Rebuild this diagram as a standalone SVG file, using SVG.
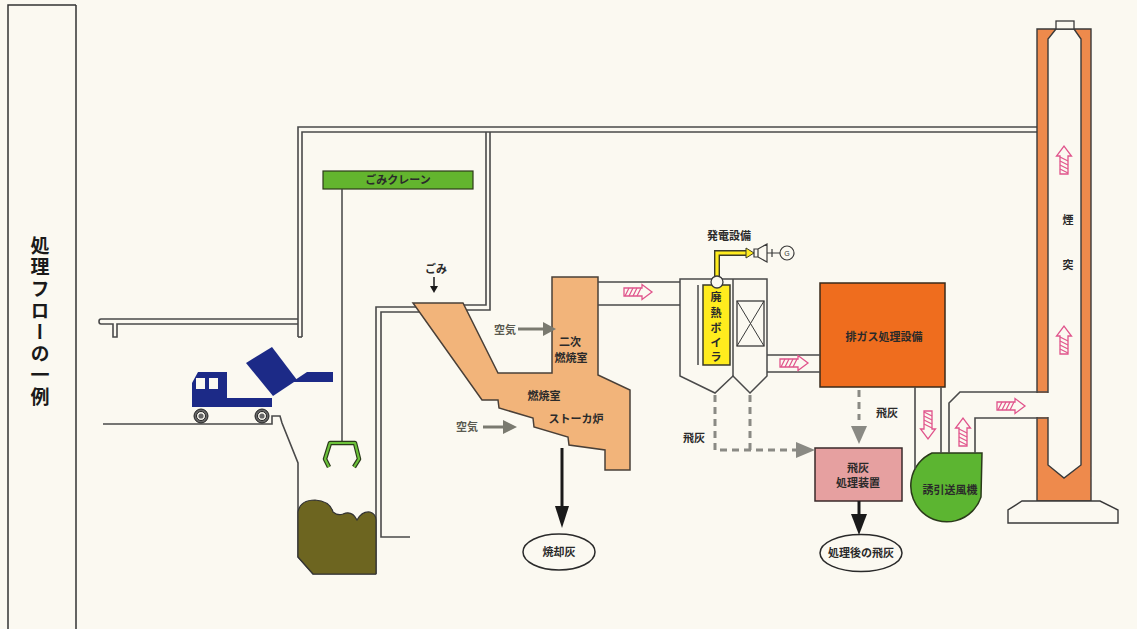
<svg xmlns="http://www.w3.org/2000/svg" xmlns:xlink="http://www.w3.org/1999/xlink" width="1137" height="629" viewBox="0 0 1137 629">
  <style>
    .wall { fill: none; stroke: #4a4a4a; stroke-width: 1.6; }
    .lbl { font-family: "Noto Sans CJK JP", "Noto Sans", sans-serif; font-weight: bold; font-size: 11px; fill: #2a2a2a; text-anchor: middle; }
    .air { font-family: "Noto Sans CJK JP", "Noto Sans", sans-serif; font-weight: bold; font-size: 11px; fill: #5a5a50; text-anchor: middle; }
    .ash { fill: none; stroke: #8a8a84; stroke-width: 3; stroke-dasharray: 7 5; }
    .flow { fill: #fbf9f1; stroke: #e0548c; stroke-width: 1.3; }
  </style>
  <defs>
    <!-- hatched gas-flow arrow, pointing right, origin at tail centre -->
    <g id="flowArrow">
      <path class="flow" d="M 0 -4 H 18 V -7.5 L 28 0 L 18 7.5 V 4 H 0 Z"/>
      <path d="M 1 4 L 5 -4 M 5 4 L 9 -4 M 9 4 L 13 -4 M 13 4 L 17 -4" stroke="#e0548c" stroke-width="1.2" fill="none"/>
    </g>
  </defs>

  <!-- paper -->
  <rect x="0" y="0" width="1137" height="629" fill="#fbf9f1"/>

  <!-- title panel -->
  <g id="title">
    <path d="M 8 629 V 5 H 76 M 76 5 V 629" fill="none" stroke="#333" stroke-width="1.5"/>
    <text x="40" y="236" writing-mode="tb" font-family="Noto Sans CJK JP, sans-serif" font-weight="bold" font-size="19" letter-spacing="2.6" fill="#1a1a1a">処理フローの一例</text>
  </g>

  <!-- building -->
  <g id="building">
    <path class="wall" d="M 298 337 V 127 H 1037"/>
    <path class="wall" d="M 302 337 V 132 H 1037"/>
    <path class="wall" d="M 298 337 H 302"/>
    <path class="wall" d="M 298 319 H 101 Q 99 319 99 321.5 Q 99 324 101 324 H 113 V 337 H 117 V 324 H 298"/>
    <path class="wall" d="M 486 132 V 305 H 463"/>
    <path class="wall" d="M 490 132 V 310 H 466"/>
    <path class="wall" d="M 416 307 H 376 V 574"/>
    <path class="wall" d="M 420 312 H 381 V 537 H 410"/>
    <path class="wall" d="M 103 424 H 272 V 416 H 280 L 282 423 L 298 463 V 557 L 313 574 H 376"/>
  </g>

  <!-- refuse pit contents -->
  <g id="pit">
    <path d="M 298 512 Q 300 500 315 500 Q 330 501 333 512 Q 338 516 343 514 Q 352 510 357 520 Q 362 511 370 512 Q 376 514 376 520 V 574 H 313 L 298 557 Z" fill="#6d6520" stroke="#333" stroke-width="1.2"/>
  </g>

  <!-- collection truck -->
  <g id="truck">
    <path d="M 246 363 L 272 347 L 297 380 L 273 396 Z" fill="#1c2a87"/>
    <path d="M 292 382 L 307 372 H 333 V 382 Z" fill="#1c2a87"/>
    <path d="M 192 407 V 383 L 198 372 H 227 V 398 H 272 V 407 Z" fill="#1c2a87"/>
    <rect x="196" y="378" width="9" height="11" fill="#fbf9f1"/>
    <rect x="209" y="378" width="9" height="11" fill="#fbf9f1"/>
    <circle cx="201" cy="416" r="7" fill="#666" stroke="#222" stroke-width="1"/>
    <circle cx="201" cy="416" r="4.5" fill="#fbf9f1" stroke="#222" stroke-width="1"/>
    <circle cx="201" cy="416" r="2.6" fill="#666"/>
    <circle cx="262" cy="416" r="7" fill="#666" stroke="#222" stroke-width="1"/>
    <circle cx="262" cy="416" r="4.5" fill="#fbf9f1" stroke="#222" stroke-width="1"/>
    <circle cx="262" cy="416" r="2.6" fill="#666"/>
  </g>

  <!-- refuse crane -->
  <g id="crane">
    <rect x="323" y="171" width="150" height="18" fill="#63b52e" stroke="#2d3a1a" stroke-width="1.2"/>
    <text class="lbl" x="398" y="184" fill="#1f3010">ごみクレーン</text>
    <path d="M 342 189 V 443" stroke="#444" stroke-width="1.5"/>
    <path d="M 329 467 L 325 459 L 330 443 H 355 L 359 459 L 354 467" fill="none" stroke="#2a3a1a" stroke-width="4.5" stroke-linejoin="round"/>
    <path d="M 329 467 L 325 459 L 330 443 H 355 L 359 459 L 354 467" fill="none" stroke="#6cc23a" stroke-width="2.2" stroke-linejoin="round"/>
  </g>

  <!-- furnace -->
  <g id="furnace">
    <path d="M 413 303 L 463 303 L 498 373 L 552 373 L 552 277 L 598 277 L 598 375 L 630 390 L 630 470 L 605 470 L 605 450 L 569 445 L 568 437 L 534 427 L 533 418 L 499 408 L 498 400 L 482 400 Z" fill="#f2b47a" stroke="#4a4038" stroke-width="1.5"/>
    <text class="lbl" x="570" y="346" fill="#3a2a1a">二次</text>
    <text class="lbl" x="571" y="362" fill="#3a2a1a">燃焼室</text>
    <text class="lbl" x="544" y="400" fill="#3a2a1a">燃焼室</text>
    <text class="lbl" x="576" y="423" fill="#3a2a1a">ストーカ炉</text>
  </g>

  <!-- waste boiler and power generation -->
  <g id="boiler">
    <path d="M 680 279 H 767 V 376 L 750 393 L 733 376 L 715 393 L 680 376 Z" fill="#fbf9f1" stroke="#4a4a4a" stroke-width="1.5"/>
    <path d="M 733 279 V 376 M 698 285 V 365" stroke="#4a4a4a" stroke-width="1.5"/>
    <rect x="703" y="285" width="27" height="80" fill="#ffec1e" stroke="#3a3a2a" stroke-width="1.5"/>
    <text class="lbl" x="716" y="301">廃</text>
    <text class="lbl" x="716" y="317">熱</text>
    <text class="lbl" x="716" y="332">ボ</text>
    <text class="lbl" x="716" y="347">イ</text>
    <text class="lbl" x="716" y="361">ラ</text>
    <rect x="737" y="301" width="27" height="45" fill="none" stroke="#3a3a3a" stroke-width="1.3"/>
    <path d="M 737 301 L 764 346 M 764 301 L 737 346" stroke="#3a3a3a" stroke-width="1"/>
    <path d="M 717 277 V 253 H 748" fill="none" stroke="#3a3a2a" stroke-width="6"/>
    <path d="M 717 277 V 253 H 748" fill="none" stroke="#ffec1e" stroke-width="3.2"/>
    <path d="M 746 248 L 754 253 L 746 258 Z" fill="#ffec1e" stroke="#3a3a2a" stroke-width="1"/>
    <circle cx="717" cy="282" r="6" fill="#fbf9f1" stroke="#3a3a3a" stroke-width="1.3"/>
    <path d="M 754 249 H 758 V 257 H 754 Z M 758 249 L 767 244 V 262 L 758 257 Z" fill="#fbf9f1" stroke="#3a3a3a" stroke-width="1.2"/>
    <path d="M 767 253 H 780 M 772 249 V 257" stroke="#3a3a3a" stroke-width="1.2"/>
    <circle cx="787" cy="253" r="7" fill="#fbf9f1" stroke="#3a3a3a" stroke-width="1.2"/>
    <text x="787" y="256" font-family="Liberation Sans, sans-serif" font-size="7" text-anchor="middle" fill="#333">G</text>
    <text class="lbl" x="729" y="240">発電設備</text>
  </g>

  <!-- flue gas treatment -->
  <g id="gas-treatment">
    <rect x="820" y="283" width="125" height="104" fill="#ef6d1e" stroke="#3a2a1a" stroke-width="1.5"/>
    <text class="lbl" x="884" y="341" fill="#3a1a0a">排ガス処理設備</text>
  </g>

  <!-- fly ash treatment -->
  <g id="flyash-unit">
    <rect x="815" y="448" width="87" height="53" fill="#e6a0a0" stroke="#3a2a2a" stroke-width="1.5"/>
    <text class="lbl" x="858" y="472" fill="#5a2020">飛灰</text>
    <text class="lbl" x="858" y="487" fill="#5a2020">処理装置</text>
  </g>

  <!-- induced draft fan -->
  <g id="fan">
    <path d="M 982 453 H 932 A 36 36 0 1 0 981 497 Z" fill="#5cb531" stroke="#2a3a1a" stroke-width="1.5"/>
    <text class="lbl" x="950" y="494" font-size="10" fill="#1a2a10">誘引送風機</text>
  </g>

  <!-- stack -->
  <g id="stack">
    <path d="M 1037 29 H 1091 V 501 H 1037 Z M 1056 29 L 1048 39 V 465 L 1064 478 L 1081 465 V 39 L 1074 29 Z" fill="#ee8a4c" fill-rule="evenodd" stroke="#3a3a3a" stroke-width="1.4"/>
    <rect x="1056" y="21" width="18" height="8" fill="#fbf9f1" stroke="#3a3a3a" stroke-width="1.3"/>
    <rect x="1035.5" y="393" width="14" height="24" fill="#fbf9f1"/>
    <path d="M 1022 501 H 1100 L 1118 510 V 523 H 1008 V 510 Z" fill="#fbf9f1" stroke="#3a3a3a" stroke-width="1.4"/>
    <text class="lbl" x="1068" y="224">煙</text>
    <text class="lbl" x="1068" y="269">突</text>
  </g>

  <!-- residue -->
  <g id="bottom-ash">
    <ellipse cx="559" cy="552" rx="36" ry="18" fill="#fbf9f1" stroke="#2a2a2a" stroke-width="1.5"/>
    <text class="lbl" x="559" y="556" font-size="12">焼却灰</text>
  </g>
  <g id="treated-ash">
    <ellipse cx="861" cy="553" rx="41" ry="18.5" fill="#fbf9f1" stroke="#2a2a2a" stroke-width="1.5"/>
    <text class="lbl" x="861" y="557" font-size="11" fill="#3a3a3a">処理後の飛灰</text>
  </g>

  <!-- connectors: ducts, flows and transfers -->
  <g id="connectors">
    <!-- flue ducts -->
    <path class="wall" d="M 598 282 H 680 M 598 305 H 680"/>
    <path class="wall" d="M 767 355 H 820 M 767 372 H 820"/>
    <path class="wall" d="M 915 387 V 469 M 941 387 V 453"/>
    <path class="wall" d="M 949 453 V 403 L 960 392 H 1048"/>
    <path class="wall" d="M 975 453 V 418 H 1048"/>

    <!-- hatched gas flow arrows -->
    <use xlink:href="#flowArrow" transform="translate(624,292)"/>
    <use xlink:href="#flowArrow" transform="translate(780,363)"/>
    <use xlink:href="#flowArrow" transform="translate(928,411) rotate(90)"/>
    <use xlink:href="#flowArrow" transform="translate(963,446) rotate(-90)"/>
    <use xlink:href="#flowArrow" transform="translate(997,406)"/>
    <use xlink:href="#flowArrow" transform="translate(1064,174) rotate(-90)"/>
    <use xlink:href="#flowArrow" transform="translate(1064,354) rotate(-90)"/>

    <!-- refuse in -->
    <text class="lbl" x="436" y="273">ごみ</text>
    <path d="M 434 277 V 287" stroke="#1a1a1a" stroke-width="1.5"/>
    <path d="M 430 286 L 438 286 L 434 293 Z" fill="#1a1a1a"/>

    <!-- combustion air -->
    <text class="air" x="505" y="334">空気</text>
    <path d="M 518 329 H 545" stroke="#7a7a70" stroke-width="3"/>
    <path d="M 543 322 L 556 329 L 543 336 Z" fill="#7a7a70"/>
    <text class="air" x="467" y="431">空気</text>
    <path d="M 483 427 H 505" stroke="#7a7a70" stroke-width="3"/>
    <path d="M 503 420 L 517 427 L 503 434 Z" fill="#7a7a70"/>

    <!-- bottom ash out -->
    <path d="M 562 448 V 508" stroke="#1a1a1a" stroke-width="3"/>
    <path d="M 555 506 L 569 506 L 562 528 Z" fill="#1a1a1a"/>

    <!-- fly ash from boiler hoppers -->
    <path class="ash" d="M 715 395 V 450 H 797"/>
    <path class="ash" d="M 750 395 V 450"/>
    <path d="M 796 442 L 815 450 L 796 458 Z" fill="#8a8a84"/>
    <text class="lbl" x="694" y="442" fill="#1a1a1a">飛灰</text>

    <!-- fly ash from gas treatment -->
    <path class="ash" d="M 859 390 V 420"/>
    <path d="M 851 426 L 867 426 L 859 444 Z" fill="#8a8a84"/>
    <text class="lbl" x="887" y="417" fill="#1a1a1a">飛灰</text>

    <!-- treated fly ash out -->
    <path d="M 859 501 V 517" stroke="#1a1a1a" stroke-width="3"/>
    <path d="M 851 514 L 867 514 L 859 535 Z" fill="#1a1a1a"/>
  </g>
</svg>
